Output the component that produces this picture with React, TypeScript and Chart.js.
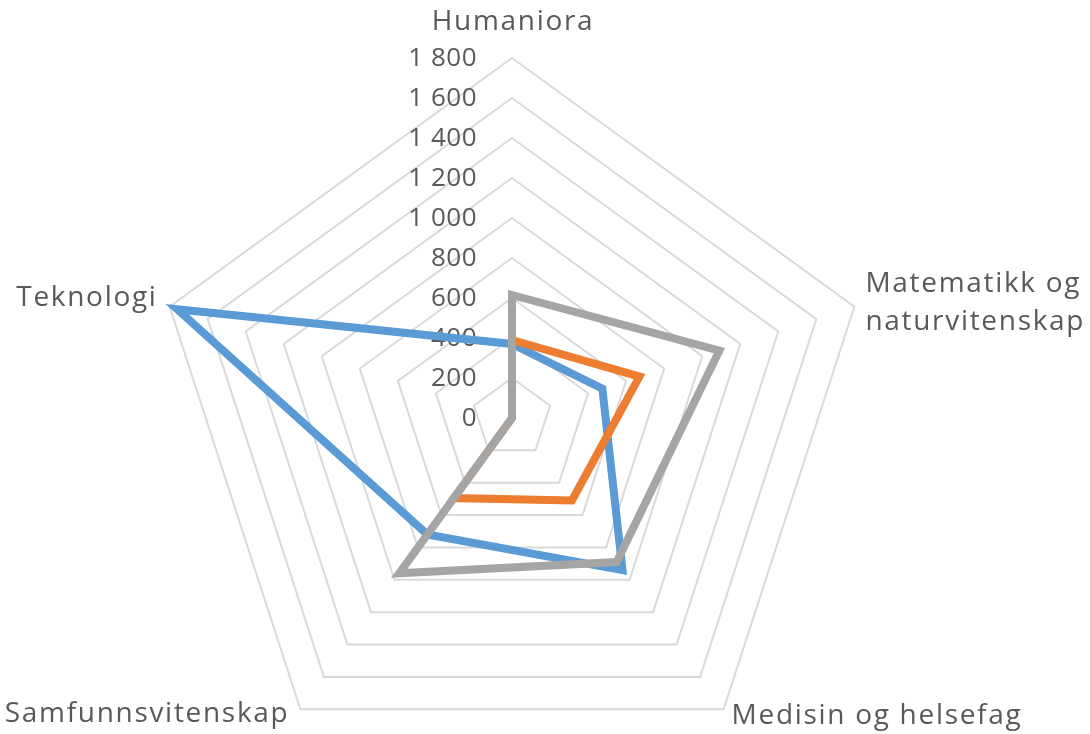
import React, { useEffect, useRef } from "react";
import { Chart, registerables } from "chart.js";

Chart.register(...registerables);

// ---- data ----
const categories: (string | string[])[] = [
  "Humaniora",
  ["Matematikk og", "naturvitenskap"],
  "Medisin og helsefag",
  "Samfunnsvitenskap",
  "Teknologi",
];
const blueValues = [370, 475, 940, 720, 1760];
const orangeValues = [390, 670, 510, 495, 0];
const grayValues = [615, 1090, 890, 960, 0];
const tickValues = [0, 200, 400, 600, 800, 1000, 1200, 1400, 1600, 1800];
const tickLabels = ["0", "200", "400", "600", "800", "1 000", "1 200", "1 400", "1 600", "1 800"];

// ---- style ----
const TEXT_COLOR = "#595959";
const FONT_FAMILY = "'Open Sans', sans-serif";
const W = 1090;
const H = 734;

export default function App() {
  const ref = useRef<HTMLCanvasElement>(null);

  useEffect(() => {
    if (!ref.current) return;

    const labelPlugin = {
      id: "customLabels",
      beforeDatasetsDraw(chart: any) {
        const s = chart.scales.r;
        const ctx = chart.ctx;
        ctx.save();
        ctx.font = `26px ${FONT_FAMILY}`;
        ctx.fillStyle = TEXT_COLOR;
        ctx.textAlign = "right";
        ctx.textBaseline = "middle";
        (ctx as any).letterSpacing = "0.5px";
        tickValues.forEach((v, i) => {
          ctx.fillText(tickLabels[i], s.xCenter - 35, s.yCenter - s.getDistanceFromCenterForValue(v) + 1);
        });
        ctx.restore();
      },
      afterDraw(chart: any) {
        const s = chart.scales.r;
        const ctx = chart.ctx;
        ctx.save();
        ctx.font = `28px ${FONT_FAMILY}`;
        ctx.fillStyle = TEXT_COLOR;
        ctx.textBaseline = "alphabetic";
        (ctx as any).letterSpacing = "1.7px";
        // per-index placement: [dx, dy, align]
        const place: [number, number, CanvasTextAlign][] = [
          [1, -28, "center"],
          [11, -15, "left"],
          [8, 15, "left"],
          [-11, 13, "right"],
          [-12, -1, "right"],
        ];
        categories.forEach((lab, i) => {
          const p = s.getPointPosition(i, s.drawingArea);
          const [dx, dy, align] = place[i];
          ctx.textAlign = align;
          const lines = Array.isArray(lab) ? lab : [lab];
          lines.forEach((ln, k) => {
            ctx.fillText(ln, p.x + dx, p.y + dy + k * 38);
          });
        });
        ctx.restore();
      },
    };

    const chart = new Chart(ref.current, {
      type: "radar",
      data: {
        labels: categories,
        datasets: [
          {
            label: "Serie 1",
            data: blueValues,
            borderColor: "#5b9bd5",
            backgroundColor: "#5b9bd5",
            borderWidth: 8,
            pointRadius: 0,
            fill: false,
            order: 2,
            clip: false,
          },
          {
            label: "Serie 2",
            data: orangeValues,
            borderColor: "#ed7d31",
            backgroundColor: "#ed7d31",
            borderWidth: 8,
            pointRadius: 0,
            fill: false,
            order: 1,
            clip: false,
          },
          {
            label: "Serie 3",
            data: grayValues,
            borderColor: "#a5a5a5",
            backgroundColor: "#a5a5a5",
            borderWidth: 8,
            pointRadius: 0,
            fill: false,
            order: 0,
            clip: false,
          },
        ],
      },
      options: {
        responsive: false,
        animation: false,
        events: [],
        layout: { padding: 0 },
        plugins: {
          legend: { display: false },
          tooltip: { enabled: false },
        },
        scales: {
          r: {
            min: 0,
            max: 1800,
            ticks: { display: false, stepSize: 200 },
            grid: { color: "#d9d9d9", lineWidth: 2 },
            angleLines: { display: false },
            pointLabels: { display: false },
            afterFit: (scale: any) => {
              scale.xCenter = 512;
              scale.yCenter = 418;
              scale.drawingArea = 360;
            },
          },
        },
      },
      plugins: [labelPlugin],
    } as any);

    return () => chart.destroy();
  }, []);

  return (
    <div style={{ position: "fixed", left: 0, top: 0, width: W, height: H, background: "#fff" }}>
      <canvas ref={ref} width={W} height={H} style={{ width: W, height: H, display: "block" }} />
    </div>
  );
}
